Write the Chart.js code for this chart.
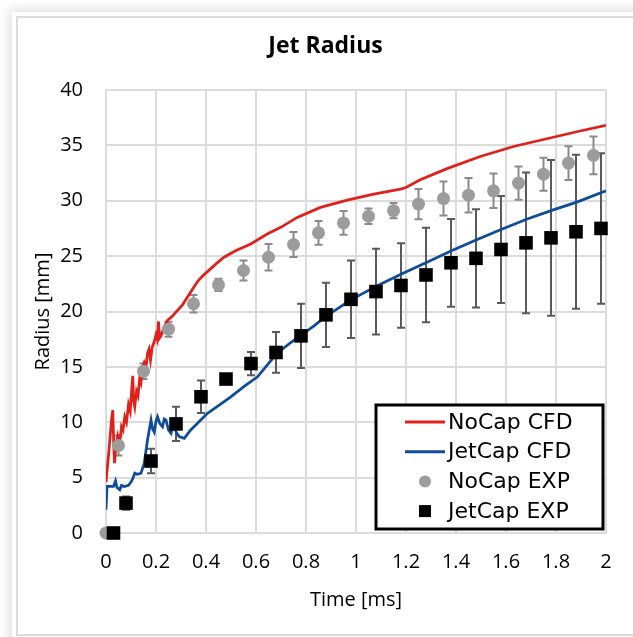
<!DOCTYPE html>
<html>
<head>
<meta charset="utf-8">
<script src="https://cdn.jsdelivr.net/npm/chart.js@4"></script>
<style>
body { margin: 0; background: #fff; width: 633px; height: 637px; overflow: hidden; position: relative; }
#frame { position: absolute; left: 12px; top: 12px; width: 700px; height: 700px; background: #fff; box-shadow: 0 0 10px 3px rgba(0,0,0,0.13); }
#edge { position: absolute; left: 16px; top: 16px; width: 700px; height: 616px; border: 2px solid #dcdcdc; }
canvas { position: absolute; left: 0; top: 0; }
</style>
</head>
<body>
<div id="frame"></div>
<div id="edge"></div>
<canvas id="jetRadius" width="633" height="637"></canvas>
<script>
var ctx = document.getElementById('jetRadius').getContext('2d');

// time [ms] / radius [mm]
var noCapCfdT = [0, 0.012, 0.022, 0.027, 0.031, 0.034, 0.04, 0.047, 0.055, 0.062, 0.068, 0.075, 0.082, 0.09, 0.097, 0.103, 0.107, 0.11, 0.115, 0.122, 0.128, 0.135, 0.14, 0.147, 0.153, 0.16, 0.166, 0.172, 0.178, 0.185, 0.192, 0.2, 0.205, 0.21, 0.214, 0.22, 0.232, 0.246, 0.266, 0.286, 0.306, 0.326, 0.346, 0.366, 0.386, 0.406, 0.44, 0.472, 0.52, 0.579, 0.645, 0.699, 0.765, 0.858, 0.965, 1.071, 1.178, 1.2, 1.257, 1.364, 1.497, 1.63, 1.763, 1.896, 2.0];
var noCapCfdR = [4.6, 7.5, 10.2, 11.1, 8.0, 6.3, 7.8, 8.8, 8.2, 9.6, 9.3, 10.5, 10.0, 11.6, 11.0, 13.0, 14.2, 12.0, 11.4, 12.8, 12.4, 14.0, 13.6, 15.0, 15.4, 15.0, 16.2, 16.6, 15.6, 16.8, 17.2, 17.9, 17.5, 19.1, 17.6, 17.8, 18.6, 19.2, 19.6, 20.1, 20.6, 21.3, 22.0, 22.7, 23.2, 23.6, 24.3, 24.9, 25.5, 26.1, 27.0, 27.6, 28.5, 29.4, 30.05, 30.6, 31.05, 31.2, 31.9, 32.9, 34.0, 34.9, 35.6, 36.3, 36.8];

var jetCapCfdT = [0, 0.004, 0.03, 0.038, 0.044, 0.055, 0.062, 0.073, 0.09, 0.1, 0.107, 0.115, 0.125, 0.14, 0.153, 0.166, 0.18, 0.186, 0.193, 0.2, 0.206, 0.215, 0.226, 0.233, 0.24, 0.25, 0.26, 0.268, 0.273, 0.283, 0.293, 0.313, 0.339, 0.37, 0.406, 0.45, 0.499, 0.55, 0.606, 0.683, 0.739, 0.832, 0.882, 0.983, 1.083, 1.184, 1.284, 1.384, 1.485, 1.585, 1.685, 1.786, 1.886, 2.0];
var jetCapCfdR = [2.1, 4.2, 4.2, 4.7, 4.1, 3.9, 4.3, 4.2, 4.3, 4.6, 4.9, 5.4, 5.3, 5.4, 6.3, 8.4, 10.2, 9.4, 9.1, 10.1, 10.5, 9.9, 9.6, 10.3, 10.2, 9.3, 9.0, 9.7, 9.6, 9.0, 8.7, 8.55, 9.3, 10.0, 10.8, 11.5, 12.3, 13.2, 14.1, 16.2, 17.2, 18.7, 19.6, 21.1, 22.3, 23.4, 24.45, 25.5, 26.5, 27.45, 28.35, 29.15, 29.9, 30.9];

var noCapExpT = [0, 0.05, 0.15, 0.25, 0.35, 0.45, 0.55, 0.65, 0.75, 0.85, 0.95, 1.05, 1.15, 1.25, 1.35, 1.45, 1.55, 1.65, 1.75, 1.85, 1.95];
var noCapExpR = [0, 7.9, 14.6, 18.4, 20.7, 22.4, 23.7, 24.9, 26.05, 27.1, 28.0, 28.6, 29.1, 29.7, 30.2, 30.5, 30.9, 31.6, 32.4, 33.4, 34.1];
var noCapExpErr = [0, 0.9, 0.7, 0.68, 0.8, 0.55, 0.9, 1.2, 1.13, 1.07, 1.07, 0.71, 0.69, 1.37, 1.53, 1.56, 1.56, 1.5, 1.49, 1.53, 1.7];

var jetCapExpT = [0.03, 0.08, 0.18, 0.28, 0.38, 0.48, 0.58, 0.68, 0.78, 0.88, 0.98, 1.08, 1.18, 1.28, 1.38, 1.48, 1.58, 1.68, 1.78, 1.88, 1.98];
var jetCapExpR = [0, 2.7, 6.5, 9.85, 12.3, 13.9, 15.3, 16.3, 17.8, 19.7, 21.1, 21.8, 22.35, 23.3, 24.4, 24.8, 25.6, 26.2, 26.65, 27.2, 27.5];
var jetCapExpErr = [0, 0.6, 1.1, 1.55, 1.47, 0.3, 1.05, 1.84, 2.9, 2.9, 3.5, 3.87, 3.82, 4.26, 3.96, 4.44, 4.84, 6.36, 7.04, 6.95, 6.8];

var xTickLabels = ['0', '0.2', '0.4', '0.6', '0.8', '1', '1.2', '1.4', '1.6', '1.8', '2'];
var yTickLabels = ['0', '5', '10', '15', '20', '25', '30', '35', '40'];

var chartTitle = 'Jet Radius';
var seriesNames = ['NoCap CFD', 'JetCap CFD', 'NoCap EXP', 'JetCap EXP'];
var red = '#e0201b';
var blue = '#0e4c9a';
var grey = '#9c9c9c';
var font = 'Open Sans';

toXY = function(t, r){
    var out = [];
    for(var i = 0; i < t.length; i++){
        out.push({x: t[i], y: r[i]});
    }
    return out;
}

// vertical error bars with caps, drawn through the chart scales
var errorBars = {
    id: 'errorBars',
    beforeDatasetsDraw: function(chart){
        var c = chart.ctx, xs = chart.scales.x, ys = chart.scales.y;
        var draw = function(t, r, e, color){
            c.save();
            c.strokeStyle = color;
            c.lineWidth = 2;
            for(var i = 0; i < t.length; i++){
                if(!e[i]) continue;
                var px = xs.getPixelForValue(t[i]);
                var top = ys.getPixelForValue(r[i] + e[i]);
                var bot = ys.getPixelForValue(r[i] - e[i]);
                c.beginPath();
                c.moveTo(px, top); c.lineTo(px, bot);
                c.moveTo(px - 4, top); c.lineTo(px + 4, top);
                c.moveTo(px - 4, bot); c.lineTo(px + 4, bot);
                c.stroke();
            }
            c.restore();
        };
        draw(noCapExpT, noCapExpR, noCapExpErr, '#8a8a8a');
        draw(jetCapExpT, jetCapExpR, jetCapExpErr, '#5a5a5a');
    }
};

// title centred on the whole frame, not on the plot
var frameTitle = {
    id: 'frameTitle',
    afterDraw: function(chart){
        var c = chart.ctx;
        c.save();
        c.font = 'bold 23px "' + font + '"';
        c.fillStyle = '#000';
        c.textAlign = 'center';
        c.textBaseline = 'middle';
        c.fillText(chartTitle, chart.width / 2 + 9, 46);
        c.restore();
    }
};

// boxed legend in the lower right corner of the plot
var boxLegend = {
    id: 'boxLegend',
    afterDraw: function(chart){
        var c = chart.ctx, a = chart.chartArea;
        var w = 227, h = 124;
        var left = a.right - 3 - w, top = a.bottom - 4 - h;
        c.save();
        c.fillStyle = '#fff';
        c.fillRect(left, top, w, h);
        c.strokeStyle = '#000';
        c.lineWidth = 3;
        c.strokeRect(left, top, w, h);
        c.font = '22px "DejaVu Sans"';
        c.textBaseline = 'middle';
        c.textAlign = 'left';
        for(var i = 0; i < seriesNames.length; i++){
            var y = top + 17 + i * 29.7;
            if(i < 2){
                c.strokeStyle = i == 0 ? red : blue;
                c.lineWidth = 3;
                c.beginPath();
                c.moveTo(left + 29, y); c.lineTo(left + 69, y);
                c.stroke();
            } else if(i == 2){
                c.fillStyle = grey;
                c.beginPath();
                c.arc(left + 49, y, 6, 0, Math.PI * 2);
                c.fill();
            } else {
                c.fillStyle = '#000';
                c.fillRect(left + 43, y - 6, 12, 12);
            }
            c.fillStyle = '#000';
            c.fillText(seriesNames[i], left + 72, y + 1);
        }
        c.restore();
    }
};

createChart = function(){
    var jetRadius = new Chart(ctx, {
        type: 'scatter',
        data: {
            datasets: [{
                label: seriesNames[0],
                data: toXY(noCapCfdT, noCapCfdR),
                showLine: true,
                borderColor: red,
                borderWidth: 2.75,
                pointRadius: 0,
                order: 3
            }, {
                label: seriesNames[1],
                data: toXY(jetCapCfdT, jetCapCfdR),
                showLine: true,
                borderColor: blue,
                borderWidth: 2.75,
                pointRadius: 0,
                order: 2
            }, {
                label: seriesNames[2],
                data: toXY(noCapExpT, noCapExpR),
                pointStyle: 'circle',
                pointRadius: 6.5,
                backgroundColor: grey,
                borderWidth: 0,
                clip: false,
                order: 1
            }, {
                label: seriesNames[3],
                data: toXY(jetCapExpT, jetCapExpR),
                pointStyle: 'rect',
                pointRadius: 9.6,
                backgroundColor: '#000',
                borderWidth: 0,
                clip: false,
                order: 0
            }]
        },
        options: {
            responsive: false,
            animation: false,
            layout: { padding: { left: 0, right: 27, top: 90, bottom: 0 } },
            plugins: {
                legend: { display: false },
                tooltip: { enabled: false },
                title: { display: false }
            },
            scales: {
                x: {
                    type: 'linear',
                    min: 0,
                    max: 2,
                    ticks: {
                        stepSize: 0.2,
                        color: '#000',
                        padding: 17,
                        font: { family: font, size: 20 },
                        callback: function(v, i){ return xTickLabels[i]; }
                    },
                    grid: { color: '#dcdcdc', lineWidth: 2, drawTicks: false },
                    border: { color: '#dcdcdc', width: 2 },
                    title: {
                        display: true,
                        text: 'Time [ms]',
                        color: '#000',
                        font: { family: font, size: 20 },
                        padding: { top: 0, bottom: 25 }
                    },
                    afterFit: function(s){ s.height = 104; }
                },
                y: {
                    min: 0,
                    max: 40,
                    ticks: {
                        stepSize: 5,
                        color: '#000',
                        padding: 23,
                        font: { family: font, size: 20 },
                        callback: function(v, i){ return yTickLabels[i]; }
                    },
                    grid: { color: '#dcdcdc', lineWidth: 2, drawTicks: false },
                    border: { color: '#dcdcdc', width: 2 },
                    title: {
                        display: true,
                        text: 'Radius [mm]',
                        color: '#000',
                        font: { family: font, size: 20 },
                        padding: { top: 31, bottom: 0 }
                    },
                    afterFit: function(s){ s.width = 106; }
                }
            }
        },
        plugins: [errorBars, frameTitle, boxLegend]
    });
}

createChart();
</script>
</body>
</html>
